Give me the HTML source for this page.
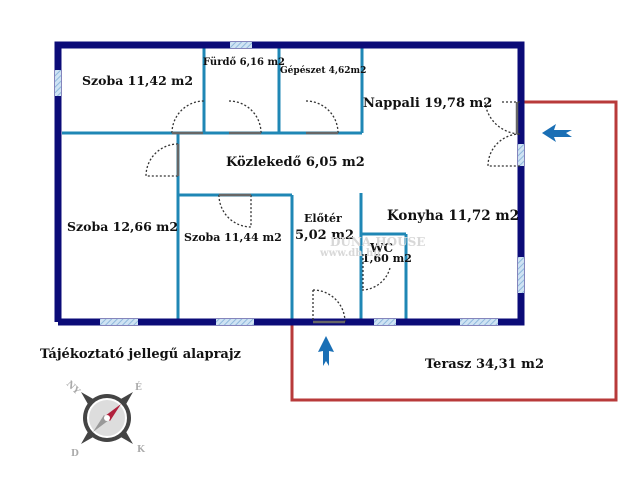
<!DOCTYPE html>
<html><head><meta charset="utf-8"><style>
html,body{margin:0;padding:0;background:#fff;width:640px;height:480px;overflow:hidden}
text{font-family:"DejaVu Serif","Liberation Serif",serif;font-weight:bold;fill:#111}
</style></head><body>
<svg width="640" height="480" viewBox="0 0 640 480" xmlns="http://www.w3.org/2000/svg">
<defs>
<pattern id="h" width="4" height="4" patternUnits="userSpaceOnUse" patternTransform="rotate(45)">
<rect width="4" height="4" fill="#cfe3f3"/><line x1="0" y1="0" x2="0" y2="4" stroke="#8fb8dd" stroke-width="2"/></pattern>
</defs>
<polyline points="521,102 616,102 616,400 292,400 292,322" fill="none" stroke="#b83a3a" stroke-width="3"/>
<g stroke="#1f87b5" stroke-width="3" fill="none">
<line x1="62" y1="133" x2="362" y2="133"/>
<line x1="204" y1="48" x2="204" y2="133"/>
<line x1="279" y1="48" x2="279" y2="133"/>
<line x1="362" y1="48" x2="362" y2="133"/>
<line x1="178" y1="133" x2="178" y2="320"/>
<line x1="178" y1="195" x2="292" y2="195"/>
<line x1="292" y1="195" x2="292" y2="320"/>
<line x1="361" y1="193" x2="361" y2="320"/>
<line x1="361" y1="234" x2="406" y2="234"/>
<line x1="406" y1="234" x2="406" y2="320"/>
</g>
<g stroke="#0b0b78" stroke-width="7" fill="none">
<polyline points="58,322 58,45 521,45 521,322 58,322"/>
</g>
<g fill="url(#h)">
<rect x="230" y="42" width="22" height="6"/>
<rect x="55" y="70" width="6" height="26"/>
<rect x="100" y="319" width="38" height="6"/>
<rect x="216" y="319" width="38" height="6"/>
<rect x="374" y="319" width="22" height="6"/>
<rect x="460" y="319" width="38" height="6"/>
<rect x="518" y="144" width="6" height="22"/>
<rect x="518" y="257" width="6" height="36"/>
</g>
<g fill="none" stroke="#333" stroke-width="1.3" stroke-dasharray="2,2">
<path d="M172,133 A32,32 0 0 1 204,101"/>
<path d="M229,101 A32,32 0 0 1 261,133"/>
<path d="M306,101 A32,32 0 0 1 338,133"/>
<path d="M178,144 A32,32 0 0 0 146,176 L178,176"/>
<path d="M219,195 A32,32 0 0 0 251,227 L251,195"/>
<path d="M313,290 A32,32 0 0 1 345,322 M313,290 L313,322"/>
<path d="M362,290 A30,30 0 0 0 390,268 M363,254 L363,290"/>
<path d="M502,102 L520,102 M485,102 A36,36 0 0 0 520,134"/>
<path d="M520,134 A32,32 0 0 0 488,166 L520,166"/>
</g>
<g stroke="#666" stroke-width="2.5">
<line x1="172" y1="133" x2="203" y2="133"/><line x1="229" y1="133" x2="261" y2="133"/><line x1="306" y1="133" x2="338" y2="133"/>
<line x1="178" y1="144" x2="178" y2="176"/><line x1="219" y1="195" x2="251" y2="195"/><line x1="313" y1="322" x2="345" y2="322"/>
<line x1="517" y1="102" x2="517" y2="134"/>
</g>
<text x="82" y="85" font-size="12.5">Szoba 11,42 m2</text>
<text x="203" y="65" font-size="10">Fürdő 6,16 m2</text>
<text x="280" y="73" font-size="9">Gépészet 4,62m2</text>
<text x="363" y="107" font-size="13">Nappali 19,78 m2</text>
<text x="226" y="166" font-size="13">Közlekedő 6,05 m2</text>
<text x="67" y="231" font-size="12.5">Szoba 12,66 m2</text>
<text x="184" y="241" font-size="11">Szoba 11,44 m2</text>
<text x="304" y="222" font-size="11">Előtér</text>
<text x="295" y="239" font-size="13">5,02 m2</text>
<text x="387" y="220" font-size="13.5">Konyha 11,72 m2</text>
<text x="370" y="252" font-size="12">WC</text>
<text x="362" y="262" font-size="11">1,60 m2</text>
<text x="425" y="368" font-size="13">Terasz 34,31 m2</text>
<text x="40" y="358" font-size="13">Tájékoztató jellegű alaprajz</text>
<text x="330" y="246" font-size="12" style="fill:#d8d8d8">DUNA HOUSE</text>
<text x="320" y="256" font-size="10" style="fill:#d8d8d8">www.dh.hu</text>
<path d="M542,133 L556,124 L554,130 L572,130 L566,133 L572,137 L554,137 L556,142 Z" fill="#1a6fb5"/>
<path d="M326,336 L318,352 L323,351 L323,366 L326,361 L329,366 L329,351 L334,352 Z" fill="#1a6fb5"/>
<g transform="translate(107,418)">
<circle r="24" fill="#444"/><circle r="19" fill="#ddd" stroke="#fff" stroke-width="2"/>
<path d="M-26,-26 L-12,-18 L-18,-12Z M26,-26 L18,-12 L12,-18Z M26,26 L12,18 L18,12Z M-26,26 L-18,12 L-12,18Z" fill="#444"/>
<path d="M14,-14 L3,3 L-2,-2Z" fill="#b0203c"/><path d="M-14,14 L-3,-3 L2,2Z" fill="#999"/>
<circle r="3" fill="#fff"/>
<text x="-40" y="-30" font-size="9" style="fill:#aaa" transform="rotate(45 -36 -33)">NY</text>
<text x="28" y="-28" font-size="9" style="fill:#aaa">É</text>
<text x="30" y="34" font-size="9" style="fill:#aaa">K</text>
<text x="-36" y="38" font-size="9" style="fill:#aaa">D</text>
</g>
</svg>
</body></html>
